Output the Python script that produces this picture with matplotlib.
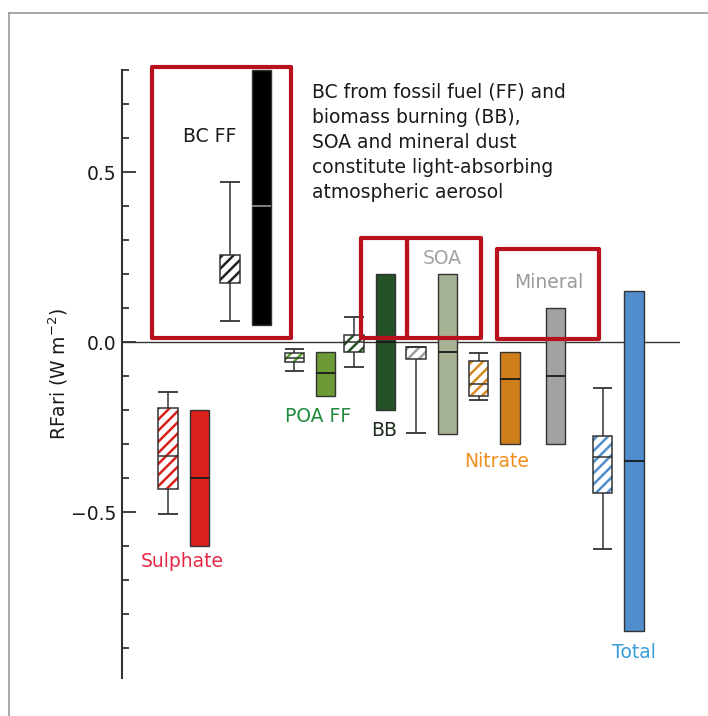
import matplotlib
matplotlib.use("Agg")
import numpy as np
import matplotlib.pyplot as plt
from matplotlib.patches import Rectangle
from matplotlib.lines import Line2D

plt.rcParams["font.family"] = ["DejaVu Sans"]
plt.rcParams["hatch.linewidth"] = 1.8

# ── data ─────────────────────────────────────────────────────────────
COMPONENTS = ["Sulphate", "BC FF", "POA FF", "BB", "SOA", "Nitrate", "Mineral", "Total"]

# model spread (hatched box): whisker low, box low, median, box high, whisker high
BOX_COMPONENTS = ["Sulphate", "BC FF", "POA FF", "BB", "SOA", "Nitrate", "Total"]
whisk_lo = [-0.506, 0.062, -0.085, -0.073, -0.267, -0.170, -0.609]
box_lo = [-0.431, 0.174, -0.060, -0.030, -0.051, -0.159, -0.445]
box_med = [-0.334, np.nan, -0.046, 0.000, np.nan, -0.124, -0.339]
box_hi = [-0.195, 0.256, -0.033, 0.020, -0.014, -0.055, -0.276]
whisk_hi = [-0.146, 0.471, -0.021, 0.073, -0.014, -0.033, -0.134]

# assessed range (solid bar): low, best estimate, high
range_lo = [-0.60, 0.05, -0.16, -0.20, -0.27, -0.30, -0.30, -0.85]
range_mid = [-0.40, 0.40, -0.09, 0.00, -0.03, -0.11, -0.10, -0.35]
range_hi = [-0.20, 0.80, -0.03, 0.20, 0.20, -0.03, 0.10, 0.15]

# ── styling ──────────────────────────────────────────────────────────
GROUP_POS = {"Sulphate": 0, "BC FF": 1, "POA FF": 2.04, "BB": 3, "SOA": 4,
             "Nitrate": 5.01, "Mineral": 5.75, "Total": 7.01}
SOLID_OFFSET = 0.505
W = 0.31
FILL = {"Sulphate": "#d9201b", "BC FF": "#000000", "POA FF": "#6c9b35",
        "BB": "#255225", "SOA": "#a6b294", "Nitrate": "#cf7f1a",
        "Mineral": "#a2a2a2", "Total": "#4f8dcd"}
HATCH = {"Sulphate": "#d9201b", "BC FF": "#222222", "POA FF": "#5aa32a",
         "BB": "#255225", "SOA": "#a0a0a0", "Nitrate": "#d98a20", "Total": "#4f8dcd"}
EDGE = "#333333"
RED = "#b8101c"

fig = plt.figure(figsize=(7.08, 7.16), dpi=100)
ax = fig.add_axes([122 / 708, 38 / 716, 558 / 708, 608 / 716])
ax.set_xlim(-0.742, 8.258)
ax.set_ylim(-0.988, 0.8)

ax.axhline(0, color="#333333", lw=1.0, zorder=1)

# hatched model boxes
for i, name in enumerate(BOX_COMPONENTS):
    x = GROUP_POS[name]
    ax.bar(x, box_hi[i] - box_lo[i], bottom=box_lo[i], width=W, color="white",
           hatch="///", edgecolor=HATCH[name], linewidth=0, zorder=2)
    ax.bar(x, box_hi[i] - box_lo[i], bottom=box_lo[i], width=W, fill=False,
           edgecolor=EDGE, linewidth=1.1, zorder=3)
    ax.vlines([x, x], [whisk_lo[i], box_hi[i]], [box_lo[i], whisk_hi[i]],
              color=EDGE, lw=1.1, zorder=3)
    ax.hlines([whisk_lo[i], whisk_hi[i]], x - W / 2, x + W / 2, color=EDGE, lw=1.3, zorder=3)
    if not np.isnan(box_med[i]):
        ax.hlines(box_med[i], x - W / 2, x + W / 2, color=EDGE, lw=1.1, zorder=3)

# solid assessed bars
for i, name in enumerate(COMPONENTS):
    x = GROUP_POS[name] + SOLID_OFFSET
    ax.bar(x, range_hi[i] - range_lo[i], bottom=range_lo[i], width=W,
           color=FILL[name], edgecolor=EDGE, linewidth=1.0, zorder=2, clip_on=False)
    mcol = "#8a8a8a" if name == "BC FF" else "#1a1a1a"
    ax.hlines(range_mid[i], x - W / 2, x + W / 2, color=mcol, lw=1.3, zorder=3)

# red boxes round the light-absorbing components
for (x0, x1, y0, y1) in [(-0.263, 1.979, 0.013, 0.810),
                         (3.113, 3.850, 0.011, 0.305),
                         (3.850, 5.048, 0.011, 0.305),
                         (5.311, 6.952, 0.009, 0.275)]:
    ax.add_patch(Rectangle((x0, y0), x1 - x0, y1 - y0, fill=False, edgecolor=RED,
                           linewidth=3.0, joinstyle="round", zorder=5, clip_on=False))

# labels
fs = 13.5
ax.text(0.677, 0.603, "BC FF", ha="center", va="center", fontsize=fs, color="#1a1a1a")
ax.text(2.32, 0.4244, "BC from fossil fuel (FF) and\nbiomass burning (BB),\nSOA and mineral dust\n"
        "constitute light-absorbing\natmospheric aerosol",
        ha="left", va="baseline", fontsize=fs, color="#1a1a1a", linespacing=1.4)
ax.text(4.42, 0.247, "SOA", ha="center", va="center", fontsize=fs, color="#a3a3a3")
ax.text(6.145, 0.176, "Mineral", ha="center", va="center", fontsize=fs, color="#9a9a9a")
ax.text(2.42, -0.218, "POA FF", ha="center", va="center", fontsize=fs, color="#1f8a3c")
ax.text(3.48, -0.259, "BB", ha="center", va="center", fontsize=fs, color="#1c2b1c")
ax.text(5.306, -0.350, "Nitrate", ha="center", va="center", fontsize=fs, color="#f08f1e")
ax.text(0.226, -0.644, "Sulphate", ha="center", va="center", fontsize=fs, color="#e62a45")
ax.text(7.516, -0.912, "Total", ha="center", va="center", fontsize=fs, color="#3a9ed9")

# axes
for s in ["top", "right", "bottom"]:
    ax.spines[s].set_visible(False)
ax.spines["left"].set_color("#333333")
ax.spines["left"].set_linewidth(1.5)
ax.set_xticks([])
ax.set_yticks([-0.5, 0.0, 0.5])
ax.set_yticklabels(["\u22120.5", "0.0", "0.5"])
ax.set_yticks(np.arange(-0.9, 0.81, 0.1), minor=True)
ax.tick_params(axis="y", which="major", direction="in", length=10, width=1.3,
               labelsize=fs, colors="#333333", labelcolor="#1a1a1a", pad=4)
ax.tick_params(axis="y", which="minor", direction="in", length=5, width=1.3, colors="#333333")
ax.set_ylabel("RFari (W m$^{\u22122}$)", fontsize=fs, color="#1a1a1a", labelpad=1)

# outer frame
fig.add_artist(Line2D([9 / 708, 1], [1 - 12.5 / 716] * 2, color="#999999", lw=1.2))
fig.add_artist(Line2D([9 / 708] * 2, [0, 1 - 12.5 / 716], color="#999999", lw=1.2))

fig.savefig("out.png", dpi=100)
